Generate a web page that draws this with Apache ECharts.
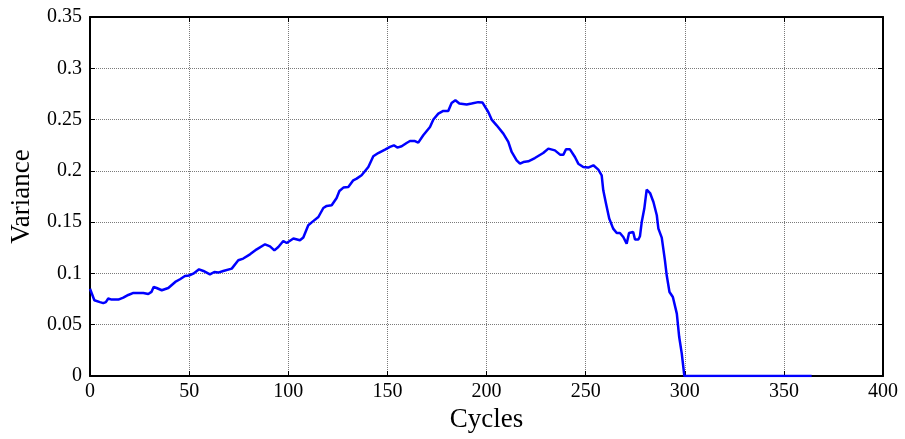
<!DOCTYPE html>
<html>
<head>
<meta charset="utf-8">
<script src="https://cdn.jsdelivr.net/npm/echarts@6/dist/echarts.min.js"></script>
<style>
  html, body { margin: 0; padding: 0; background: #fff; }
  #chart { width: 905px; height: 439px; }
</style>
</head>
<body>
<div id="chart"></div>
<script>
// Cycle numbers and the variance measured at each
const cycles = [
  0, 1, 2.2, 5, 6.7, 8, 9.2, 10.9, 14.3, 16.8, 19.3, 21.9, 26.9, 29.4, 31, 32.1, 33.6, 36.2, 39.5,
  43, 45.4, 47.9, 49.9, 52.1, 55, 57.2, 60.5, 62.7, 64.7, 67.2, 71.5, 74.8, 77.3, 80.7, 84.1, 88.3,
  90.8, 93, 95, 97.5, 99.2, 102.6, 105.9, 107.6, 110.1, 112.6, 115.2, 117.7, 119.4, 121.9, 124.4,
  125.8, 127.8, 130.3, 132.8, 134.5, 137, 140.4, 142.9, 145.4, 148.8, 151.3, 153.3, 155, 157.2,
  159.7, 161.4, 163.9, 165.6, 168.1, 171.5, 173.2, 175.7, 178.2, 180.7, 182.4, 184.3, 186.3, 190,
  192.5, 195.8, 198, 200.9, 202.6, 205.1, 208.5, 211, 212.7, 215.2, 216.9, 218.6, 221.1, 224.4,
  228.6, 231.2, 234.5, 237.1, 238.8, 240.1, 242.1, 244.6, 246.3, 248.8, 251.3, 253.9, 256.4, 258.1,
  258.9, 260.3, 261.9, 263.9, 265.7, 267.3, 269, 270.7, 271.9, 272.9, 274, 274.9, 276.6, 277.4,
  278.3, 279.6, 280.8, 282.5, 284.2, 285.9, 286.7, 288.4, 290, 290.9, 292.3, 294, 296, 297.2, 298.5,
  299.8, 364
];
const variance = [
  0.085, 0.080, 0.0738, 0.072, 0.071, 0.072, 0.0755, 0.0745, 0.0745, 0.0764, 0.079, 0.081, 0.081, 0.080, 0.082, 0.0868, 0.0858, 0.0836, 0.0858,
  0.0917, 0.0943, 0.0975, 0.098, 0.0998, 0.104, 0.1024, 0.099, 0.1014, 0.1008, 0.1024, 0.1047, 0.1128, 0.1145, 0.1186, 0.1235, 0.1284,
  0.1264, 0.1225, 0.1258, 0.1316, 0.1297, 0.134, 0.1323, 0.135, 0.147, 0.151, 0.155, 0.1638, 0.1658, 0.1664, 0.1735,
  0.1804, 0.1837, 0.1843, 0.1908, 0.1924, 0.1957, 0.2038, 0.2142, 0.2174, 0.2207, 0.2233, 0.2249, 0.2227, 0.224,
  0.2272, 0.2291, 0.2291, 0.2275, 0.2347, 0.2428, 0.25, 0.2558, 0.2584, 0.2584, 0.2662, 0.2688, 0.2656, 0.2646,
  0.2656, 0.267, 0.2666, 0.2574, 0.25, 0.2444, 0.2363, 0.2282, 0.2184, 0.2103, 0.207, 0.2086, 0.2093, 0.2125,
  0.2174, 0.2217, 0.22, 0.2158, 0.2158, 0.221, 0.221, 0.2135, 0.207, 0.2038, 0.2032, 0.2054, 0.2012, 0.1957,
  0.181, 0.168, 0.1535, 0.1437, 0.1394, 0.1394, 0.1355, 0.129, 0.1394, 0.1381, 0.1404, 0.133, 0.133, 0.1362,
  0.1501, 0.1632, 0.1817, 0.1784, 0.1696, 0.1567, 0.1437, 0.1349, 0.1128, 0.0982, 0.0819, 0.077, 0.0608, 0.038, 0.0218,
  0, 0
];

const xTicks = { min: 0, max: 400, interval: 50 };
const yTicks = { min: 0, max: 0.35, interval: 0.05 };

const font = "'Liberation Serif', 'Times New Roman', serif";
const points = cycles.map((c, i) => [c, variance[i]]);

const gridLine = { show: true, lineStyle: { color: '#7a7a7a', type: 'dotted', width: 1 } };
const frameLine = { show: true, onZero: false, lineStyle: { color: '#000', width: 2 } };
const innerTick = { show: true, inside: true, length: 5, lineStyle: { color: '#000', width: 1 } };

const chart = echarts.init(document.getElementById('chart'), null, { renderer: 'canvas' });
chart.setOption({
  animation: false,
  backgroundColor: '#fff',
  grid: { left: 90, right: 22, top: 17, bottom: 63 },
  xAxis: [
    {
      type: 'value', position: 'bottom', ...xTicks,
      name: 'Cycles', nameLocation: 'middle', nameGap: 29,
      nameTextStyle: { fontFamily: font, fontSize: 27, color: '#000', verticalAlign: 'top' },
      axisLine: frameLine, axisTick: innerTick, splitLine: gridLine,
      axisLabel: { fontFamily: font, fontSize: 20, color: '#000', margin: 6 }
    },
    {
      type: 'value', position: 'top', ...xTicks,
      axisLine: frameLine, axisTick: innerTick,
      axisLabel: { show: false }, splitLine: { show: false }
    }
  ],
  yAxis: [
    {
      type: 'value', position: 'left', ...yTicks,
      name: 'Variance', nameLocation: 'middle', nameGap: 55,
      nameTextStyle: { fontFamily: font, fontSize: 27, color: '#000' },
      axisLine: frameLine, axisTick: innerTick, splitLine: gridLine,
      axisLabel: { fontFamily: font, fontSize: 20, color: '#000', margin: 8 }
    },
    {
      type: 'value', position: 'right', ...yTicks,
      axisLine: frameLine, axisTick: innerTick,
      axisLabel: { show: false }, splitLine: { show: false }
    }
  ],
  series: [
    {
      type: 'line',
      data: points,
      showSymbol: false,
      symbol: 'none',
      lineStyle: { color: '#0000ff', width: 2.5 },
      z: 5
    }
  ]
});
</script>
</body>
</html>
